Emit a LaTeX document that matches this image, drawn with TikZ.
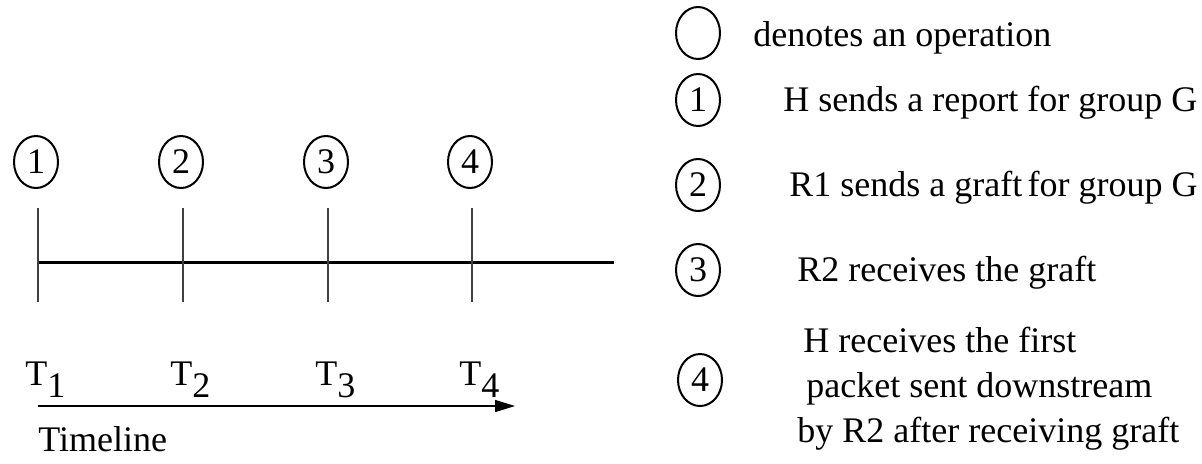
\documentclass[tikz,border=0pt]{standalone}
\usepackage{fontspec}
\setmainfont{Liberation Serif}
\usetikzlibrary{arrows.meta, positioning, shapes.geometric}

\begin{document}
\begin{tikzpicture}[x=0.5pt, y=-0.5pt, >={Triangle[length=10pt, width=6pt]},
  font=\fontsize{18}{22.5}\selectfont,
  opmark/.style={draw, ellipse, line width=1pt, inner sep=0pt,
    minimum width=22pt, minimum height=26pt},
  timetick/.style={draw=black!75, line width=0.7pt},
  keytext/.style={anchor=base west, inner sep=0pt}]
  \useasboundingbox (0,0) rectangle (1202,463);

  % Time axis with the four operations
  \draw[line width=1.5pt] (38,262) -- (614,262);
  \foreach \x/\n in {38/1, 183/2, 328/3, 472/4} {
    \draw[timetick] (\x,208) -- (\x,302);
    \node[opmark] (op\n) at (\x-2,162) {\n};
    \node[keytext] (t\n) at (\x-13,385) {T\raisebox{-0.36em}{\n}};
  }

  % Timeline arrow
  \coordinate (arrowstart) at (38,406);
  \coordinate (arrowend) at (515,406);
  \draw[->, line width=0.75pt] (arrowstart) -- (arrowend);
  \node[keytext] (timeline) at (38,451) {Timeline};

  % Legend
  \node[opmark] (key0) at (698,33) {};
  \node[keytext] (keytext0) at (753,46) {denotes an operation};
  \foreach \n/\y/\tx/\txt in {1/100/783/H sends a report for group G,
      2/185/789/R1 sends a graft\hspace{0.15em}for group G, 3/270/797/R2 receives the graft} {
    \node[opmark] (key\n) at (698,\y) {\n};
    \node[keytext] (keytext\n) at (\tx,\y+11) {\txt};
  }
  \node[opmark] (key4) at (700,380) {4};
  \node[keytext] (keytext4a) at (803,352) {H receives the first};
  \node[keytext] (keytext4b) at (806,397) {packet sent downstream};
  \node[keytext] (keytext4c) at (797,442) {by R2 after receiving graft};
\end{tikzpicture}
\end{document}
